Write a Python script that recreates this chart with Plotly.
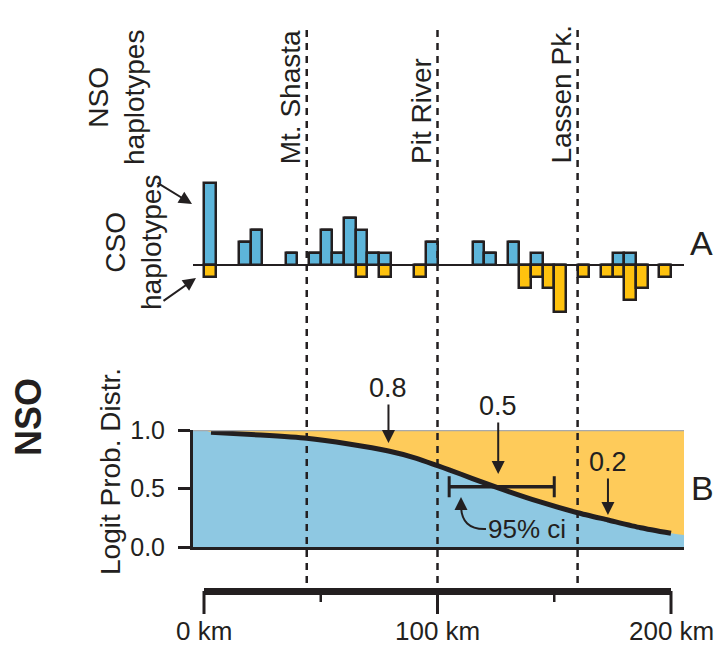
import plotly.graph_objects as go

# ---------------- data ----------------
# haplotype histogram (5-km bins, bin start in km)
bin_start_km = [0, 15, 20, 35, 45, 50, 55, 60, 65, 70, 75, 90, 95, 115, 120, 130,
                135, 140, 145, 150, 160, 170, 175, 180, 185, 195]
nso_counts = [7, 2, 3, 1, 1, 3, 1, 4, 3, 1, 1, 0, 2, 2, 1, 2,
              0, 1, 0, 0, 0, 0, 1, 1, 0, 0]
cso_counts = [1, 0, 0, 0, 0, 0, 0, 0, 1, 0, 1, 1, 0, 0, 0, 0,
              2, 1, 2, 4, 1, 1, 1, 3, 2, 1]
bin_width_km = 5

# logit probability curve
curve_km = [3, 24, 44, 62, 79, 91, 100, 105, 115, 126, 144, 160, 173, 187, 200]
curve_p = [0.98, 0.957, 0.929, 0.88, 0.82, 0.758, 0.695, 0.66, 0.585, 0.505, 0.385,
           0.293, 0.231, 0.165, 0.117]
edge_left_p = 1.0
edge_right_p = 0.10

ci_low_km, ci_high_km, ci_p = 105, 150, 0.515

arrow_labels = ["0.8", "0.5", "0.2"]
arrow_km = [79, 126, 173]
arrow_p = [0.82, 0.505, 0.231]

landmark_names = ["Mt. Shasta", "Pit River", "Lassen Pk."]
landmark_km = [44, 100, 160]

scale_major_km = [0, 100, 200]
scale_minor_km = [50, 150]
y2_ticks = [0.0, 0.5, 1.0]

# ---------------- layout helpers ----------------
W, H = 724, 646
FONT = "Liberation Sans, Arial, sans-serif"
INK = "#231F20"
BAR_BLUE = "#5DB5DA"
BAR_ORANGE = "#FFC20E"
FILL_BLUE = "#8EC8E2"
FILL_ORANGE = "#FECB5A"

PX0, PXKM = 204.0, 2.335          # pixel of 0 km, pixels per km
DOM_L, DOM_R = 193.0, 684.0
xr0 = (DOM_L - PX0) / PXKM
xr1 = (DOM_R - PX0) / PXKM


def fx(px):
    return px / W


def fy(py):
    return 1 - py / H


def kmx(km):
    return PX0 + km * PXKM


# top panel y mapping: baseline py=265, 11.7 px per haplotype
TOP_T, TOP_B, BASE, UNIT = 160.0, 330.0, 265.0, 11.7
y1_range = [(BASE - TOP_B) / UNIT, (BASE - TOP_T) / UNIT]
# bottom panel
B_T, B_B = 430.0, 547.0

fig = go.Figure()

centers = [b + bin_width_km / 2 for b in bin_start_km]
fig.add_trace(go.Bar(x=centers, y=nso_counts, width=bin_width_km,
                     marker=dict(color=BAR_BLUE, line=dict(color=INK, width=2.5)),
                     xaxis="x", yaxis="y"))
fig.add_trace(go.Bar(x=centers, y=[-c for c in cso_counts], width=bin_width_km,
                     marker=dict(color=BAR_ORANGE, line=dict(color=INK, width=2.5)),
                     xaxis="x", yaxis="y"))

# blue fill below curve
fill_x = [xr0 - 1, 0] + curve_km + [xr1 + 1]
fill_y = [edge_left_p, edge_left_p] + curve_p + [edge_right_p]
fig.add_trace(go.Scatter(x=fill_x, y=fill_y, mode="lines",
                         line=dict(width=0, shape="spline", smoothing=0.6),
                         fill="tozeroy", fillcolor=FILL_BLUE, xaxis="x", yaxis="y2",
                         hoverinfo="skip"))
fig.add_trace(go.Scatter(x=curve_km, y=curve_p, mode="lines",
                         line=dict(color=INK, width=5, shape="spline", smoothing=0.6),
                         xaxis="x", yaxis="y2"))
# CI bar
fig.add_trace(go.Scatter(x=[ci_low_km, ci_high_km], y=[ci_p, ci_p], mode="lines",
                         line=dict(color=INK, width=3.5), xaxis="x", yaxis="y2"))

shapes = []
shapes.append(dict(type="rect", xref="x domain", yref="y2", x0=0, x1=1, y0=0, y1=1,
                   fillcolor=FILL_ORANGE, line=dict(width=0), layer="below"))
shapes.append(dict(type="line", xref="x domain", yref="y2", x0=0, x1=1, y0=1, y1=1,
                   line=dict(color="#A7A9AC", width=2.5)))
for k in (ci_low_km, ci_high_km):
    shapes.append(dict(type="line", xref="x", yref="y2", x0=k, x1=k,
                       y0=ci_p - 0.09, y1=ci_p + 0.09, line=dict(color=INK, width=3)))
shapes.append(dict(type="line", xref="x domain", yref="y", x0=0, x1=1, y0=0, y1=0,
                   line=dict(color=INK, width=2.2)))
for k in landmark_km:
    shapes.append(dict(type="line", xref="x", yref="paper", x0=k, x1=k,
                       y0=fy(30), y1=fy(585), layer="above",
                       line=dict(color=INK, width=2.5, dash="7px,6px")))
shapes.append(dict(type="line", xref="x", yref="paper", x0=scale_major_km[0],
                   x1=scale_major_km[-1], y0=fy(591.5), y1=fy(591.5),
                   line=dict(color=INK, width=7)))
for k in scale_major_km:
    shapes.append(dict(type="line", xref="x", yref="paper", x0=k, x1=k,
                       y0=fy(591), y1=fy(614), line=dict(color=INK, width=3)))
for k in scale_minor_km:
    shapes.append(dict(type="line", xref="x", yref="paper", x0=k, x1=k,
                       y0=fy(591), y1=fy(602), line=dict(color=INK, width=2.5)))
p0 = (fx(486), fy(529))
pc = (fx(461), fy(530))
p1 = (fx(461), fy(505))
shapes.append(dict(type="path", xref="paper", yref="paper",
                   path=f"M {p0[0]},{p0[1]} Q {pc[0]},{pc[1]} {p1[0]},{p1[1]}",
                   line=dict(color=INK, width=2)))

ann = []
tf = dict(family=FONT, size=28, color=INK)
lf = dict(family=FONT, size=27, color=INK)
C = dict(xanchor="center", yanchor="middle")
for name, k in zip(landmark_names, landmark_km):
    ann.append(dict(xref="paper", yref="paper", x=fx(kmx(k) + 1), y=fy(166),
                    text=name, textangle=-90, showarrow=False,
                    xanchor="right", yanchor="bottom", font=tf))
ann.append(dict(xref="paper", yref="paper", x=fx(117), y=fy(98), text="NSO<br>haplotypes",
                textangle=-90, showarrow=False, font=tf, **C))
ann.append(dict(xref="paper", yref="paper", x=fx(133), y=fy(243), text="CSO<br>haplotypes",
                textangle=-90, showarrow=False, font=tf, **C))
ann.append(dict(xref="paper", yref="paper", x=fx(110), y=fy(472), text="Logit Prob. Distr.",
                textangle=-90, showarrow=False, font=tf, **C))
ann.append(dict(xref="paper", yref="paper", x=fx(28), y=fy(417), text="<b>NSO</b>",
                textangle=-90, showarrow=False, font=dict(family=FONT, size=36, color=INK), **C))
ann.append(dict(xref="paper", yref="paper", x=fx(701), y=fy(243), text="A",
                showarrow=False, font=dict(family=FONT, size=34, color=INK), **C))
ann.append(dict(xref="paper", yref="paper", x=fx(702), y=fy(488), text="B",
                showarrow=False, font=dict(family=FONT, size=34, color=INK), **C))
ann.append(dict(xref="paper", yref="paper", x=fx(192), y=fy(204), ax=156 - 192, ay=182 - 204,
                text="", showarrow=True, arrowhead=2, arrowsize=1.3, arrowwidth=2,
                arrowcolor=INK, **C))
ann.append(dict(xref="paper", yref="paper", x=fx(196), y=fy(278), ax=162 - 196, ay=302 - 278,
                text="", showarrow=True, arrowhead=2, arrowsize=1.3, arrowwidth=2,
                arrowcolor=INK, **C))
label_dy = [-63, -82, -58]
label_standoff = [8, 14, 5]
for lab, k, p, dy, so in zip(arrow_labels, arrow_km, arrow_p, label_dy, label_standoff):
    ann.append(dict(xref="x", yref="y2", x=k, y=p, ax=0, ay=dy, text=lab,
                    showarrow=True, arrowhead=2, arrowsize=1.3, arrowwidth=2,
                    arrowcolor=INK, font=lf, standoff=so, **C))
ann.append(dict(xref="paper", yref="paper", x=fx(527), y=fy(529), text="95% ci",
                showarrow=False, font=dict(family=FONT, size=26, color=INK), **C))
ann.append(dict(xref="paper", yref="paper", x=fx(461), y=fy(497), ax=0, ay=10, text="",
                showarrow=True, arrowhead=2, arrowsize=1.3, arrowwidth=2, arrowcolor=INK, **C))
for k in scale_major_km:
    ann.append(dict(xref="x", yref="paper", x=k, y=fy(631), text=f"{k} km",
                    showarrow=False, font=dict(family=FONT, size=26, color=INK), **C))

fig.update_layout(
    width=W, height=H, margin=dict(l=0, r=0, t=0, b=0, autoexpand=False),
    paper_bgcolor="white", plot_bgcolor="rgba(0,0,0,0)",
    showlegend=False, barmode="relative", bargap=0,
    font=dict(family=FONT, color=INK),
    xaxis=dict(domain=[fx(DOM_L), fx(DOM_R)], range=[xr0, xr1], anchor="y2",
               showline=True, linecolor=INK, linewidth=2.5, showticklabels=False,
               ticks="", showgrid=False, zeroline=False),
    yaxis=dict(domain=[fy(TOP_B), fy(TOP_T)], range=y1_range, anchor="x",
               visible=False, showgrid=False, zeroline=False),
    yaxis2=dict(domain=[fy(B_B), fy(B_T)], range=[0, 1], anchor="x",
                tickvals=y2_ticks, ticktext=[f"{v:.1f}" for v in y2_ticks],
                ticks="outside", ticklen=12, tickwidth=3, tickcolor=INK,
                showline=True, linecolor=INK, linewidth=3, showgrid=False,
                zeroline=False, ticklabelstandoff=8,
                tickfont=dict(family=FONT, size=25, color=INK)),
    shapes=shapes, annotations=ann,
)

fig.write_html("out.html", config={"displayModeBar": False},
               post_script="document.body.style.margin='0px';")
